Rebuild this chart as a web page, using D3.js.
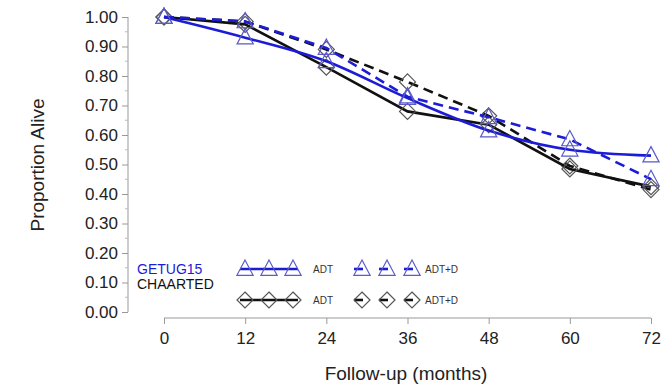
<!DOCTYPE html>
<html>
<head>
<meta charset="utf-8">
<script src="https://d3js.org/d3.v7.min.js"></script>
<style>
body { margin: 0; background: #fff; }
text { font-family: "Liberation Sans", Arial, sans-serif; }
</style>
</head>
<body>
<script>
var w = 669;
var h = 385;

// data
var months = [0, 12, 24, 36, 48, 60, 72];
var getugAdt = [1.00, 0.93, 0.85, 0.725, 0.615, 0.55, 0.53];
var getugAdtD = [1.00, 0.985, 0.895, 0.73, 0.66, 0.585, 0.45];
var chaartedAdt = [1.00, 0.975, 0.83, 0.68, 0.635, 0.485, 0.425];
var chaartedAdtD = [1.00, 0.985, 0.89, 0.78, 0.665, 0.495, 0.415];
var yTicks = [0, 0.1, 0.2, 0.3, 0.4, 0.5, 0.6, 0.7, 0.8, 0.9, 1.0];

var blue = "#1c1cd6";
var blueMark = "#5a5ac8";
var black = "#111";

var svg = d3.select("body")
    .append("svg")
    .attr("width", w)
    .attr("height", h);

var xScale = d3.scaleLinear()
    .domain([0, 72])
    .range([164, 651]);
var yScale = d3.scaleLinear()
    .domain([0, 1])
    .range([312, 17]);

// y axis
var yAxis = d3.axisLeft(yScale)
    .tickValues(yTicks)
    .tickFormat(d3.format(".2f"))
    .tickSize(6)
    .tickPadding(4);
var gy = svg.append("g")
    .attr("transform", "translate(128,0)")
    .call(yAxis);
gy.select(".domain").attr("stroke", "#999").attr("d", "M0," + yScale(1) + "V" + yScale(0));
gy.selectAll(".tick line").attr("stroke", "#999");
gy.selectAll("text").attr("font-size", "17px").attr("fill", "#222");
// minor ticks
gy.selectAll(".minor")
    .data(d3.range(0.05, 1, 0.1))
    .enter()
    .append("line")
    .attr("x1", -3).attr("x2", 0)
    .attr("y1", function(d) { return yScale(d); })
    .attr("y2", function(d) { return yScale(d); })
    .attr("stroke", "#bbb");

// x axis
var xAxis = d3.axisBottom(xScale)
    .tickValues(months)
    .tickSize(6)
    .tickPadding(8);
var gx = svg.append("g")
    .attr("transform", "translate(0,318)")
    .call(xAxis);
gx.select(".domain").attr("stroke", "#999").attr("d", "M" + xScale(0) + ",0H" + xScale(72));
gx.selectAll(".tick line").attr("stroke", "#999");
gx.selectAll("text").attr("font-size", "17px").attr("fill", "#222");

// axis titles
svg.append("text")
    .attr("transform", "translate(44,165) rotate(-90)")
    .attr("text-anchor", "middle")
    .attr("font-size", "19px")
    .attr("fill", "#222")
    .text("Proportion Alive");
svg.append("text")
    .attr("x", 406)
    .attr("y", 380)
    .attr("text-anchor", "middle")
    .attr("font-size", "19px")
    .attr("fill", "#222")
    .text("Follow-up (months)");

var lineLinear = d3.line()
    .x(function(d, i) { return xScale(months[i]); })
    .y(function(d) { return yScale(d); });
var lineSmooth = d3.line()
    .curve(d3.curveMonotoneX)
    .x(function(d, i) { return xScale(months[i]); })
    .y(function(d) { return yScale(d); });

var series = [
    { vals: chaartedAdtD, color: black, dash: "10,6", shape: "diamond", gen: lineLinear },
    { vals: chaartedAdt, color: black, dash: null, shape: "diamond", gen: lineLinear },
    { vals: getugAdtD, color: blue, dash: "10,6", shape: "triangle", gen: lineLinear },
    { vals: getugAdt, color: blue, dash: null, shape: "triangle", gen: lineSmooth }
];

function tri(s) { return "M0," + (-s) + "L" + (s * 0.9) + "," + (s * 0.7) + "L" + (-s * 0.9) + "," + (s * 0.7) + "Z"; }
function dia(s) { return "M0," + (-s) + "L" + s + ",0L0," + s + "L" + (-s) + ",0Z"; }

function marker(g, shape, x, y) {
    g.append("path")
        .attr("d", shape === "triangle" ? tri(9) : dia(8))
        .attr("transform", "translate(" + x + "," + y + ")")
        .attr("fill", "none")
        .attr("stroke", shape === "triangle" ? blueMark : "#555")
        .attr("stroke-width", 1.2);
}

series.forEach(function(s) {
    svg.append("path")
        .datum(s.vals)
        .attr("d", s.gen)
        .attr("fill", "none")
        .attr("stroke", s.color)
        .attr("stroke-width", 2.6)
        .attr("stroke-dasharray", s.dash);
    var g = svg.append("g");
    s.vals.forEach(function(v, i) {
        marker(g, s.shape, xScale(months[i]), yScale(v));
    });
});

// legend
svg.append("text").attr("x", 137).attr("y", 274).attr("font-size", "14px")
    .attr("fill", blue).text("GETUG15");
svg.append("text").attr("x", 137).attr("y", 289).attr("font-size", "14px")
    .attr("fill", black).text("CHAARTED");

var legendRows = [
    { y: 269, color: blue, shape: "triangle" },
    { y: 300, color: black, shape: "diamond" }
];
legendRows.forEach(function(r) {
    var g = svg.append("g");
    // solid
    g.append("line").attr("x1", 240).attr("x2", 298).attr("y1", r.y).attr("y2", r.y)
        .attr("stroke", r.color).attr("stroke-width", 2.6);
    [245, 269, 293].forEach(function(x) { marker(g, r.shape, x, r.y); });
    g.append("text").attr("x", 313).attr("y", r.y + 4).attr("font-size", "10px")
        .attr("fill", "#333").text("ADT");
    // dashed
    [362, 387, 412].forEach(function(x) {
        g.append("line").attr("x1", x - 8).attr("x2", x + 1).attr("y1", r.y).attr("y2", r.y)
            .attr("stroke", r.color).attr("stroke-width", 2.6);
        marker(g, r.shape, x, r.y);
    });
    g.append("text").attr("x", 425).attr("y", r.y + 4).attr("font-size", "10px")
        .attr("fill", "#333").text("ADT+D");
});
</script>
</body>
</html>
